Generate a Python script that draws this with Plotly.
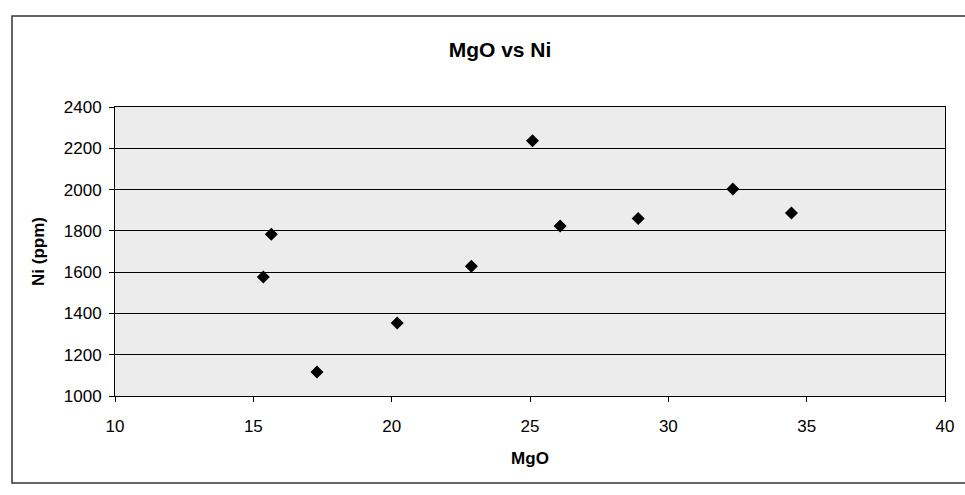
import plotly.graph_objects as go

# Data
mgo = [15.36, 15.65, 17.30, 20.20, 22.88, 25.09, 26.09, 28.91, 32.33, 34.45]
ni_ppm = [1576, 1784, 1116, 1354, 1628, 2236, 1824, 1860, 2003, 1887]

x_ticks = [10, 15, 20, 25, 30, 35, 40]
y_ticks = [1000, 1200, 1400, 1600, 1800, 2000, 2200, 2400]

FONT = "Liberation Sans, Arial, sans-serif"

fig = go.Figure()
fig.add_trace(go.Scatter(
    x=mgo, y=ni_ppm, mode="markers",
    marker=dict(symbol="diamond", size=10, color="black"),
    showlegend=False,
))

L, R, T, B = 115, 20, 107, 99
W, H = 965, 495
pw, ph = W - L - R, H - T - B

def px_to_paper_x(px):
    return (px - L) / pw

def py_to_paper_y(py):
    return (H - B - py) / ph

fig.update_layout(
    width=W, height=H,
    margin=dict(l=L, r=R, t=T, b=B),
    paper_bgcolor="white",
    plot_bgcolor="#ececec",
    font=dict(family=FONT, color="black"),
    title=dict(
        text="<b>MgO vs Ni</b>",
        font=dict(size=21, family=FONT, color="black"),
        x=px_to_paper_x(500), xref="paper", xanchor="center",
        y=1 - 50 / H, yref="container", yanchor="middle",
    ),
    xaxis=dict(
        range=[10, 40], tickvals=x_ticks, ticktext=[str(v) for v in x_ticks],
        showgrid=False, zeroline=False,
        showline=True, linecolor="black", linewidth=1, mirror=True,
        ticks="outside", ticklen=5, tickcolor="black",
        tickfont=dict(size=17), ticklabelstandoff=10,
        title=dict(text="<b>MgO</b>", font=dict(size=17), standoff=16),
    ),
    yaxis=dict(
        range=[1000, 2400], tickvals=y_ticks, ticktext=[str(v) for v in y_ticks],
        showgrid=True, gridcolor="black", gridwidth=1.3, zeroline=False,
        showline=True, linecolor="black", linewidth=1, mirror=True,
        ticks="outside", ticklen=5, tickcolor="black",
        tickfont=dict(size=17), ticklabelstandoff=4,
        title=dict(text="<b>Ni (ppm)</b>", font=dict(size=17), standoff=14),
    ),
    shapes=[dict(
        type="rect", xref="paper", yref="paper",
        x0=px_to_paper_x(12), x1=px_to_paper_x(975),
        y0=py_to_paper_y(483), y1=py_to_paper_y(16),
        line=dict(color="#333333", width=1.5), fillcolor="rgba(0,0,0,0)",
        layer="below",
    )],
)

fig.write_html("out.html")
